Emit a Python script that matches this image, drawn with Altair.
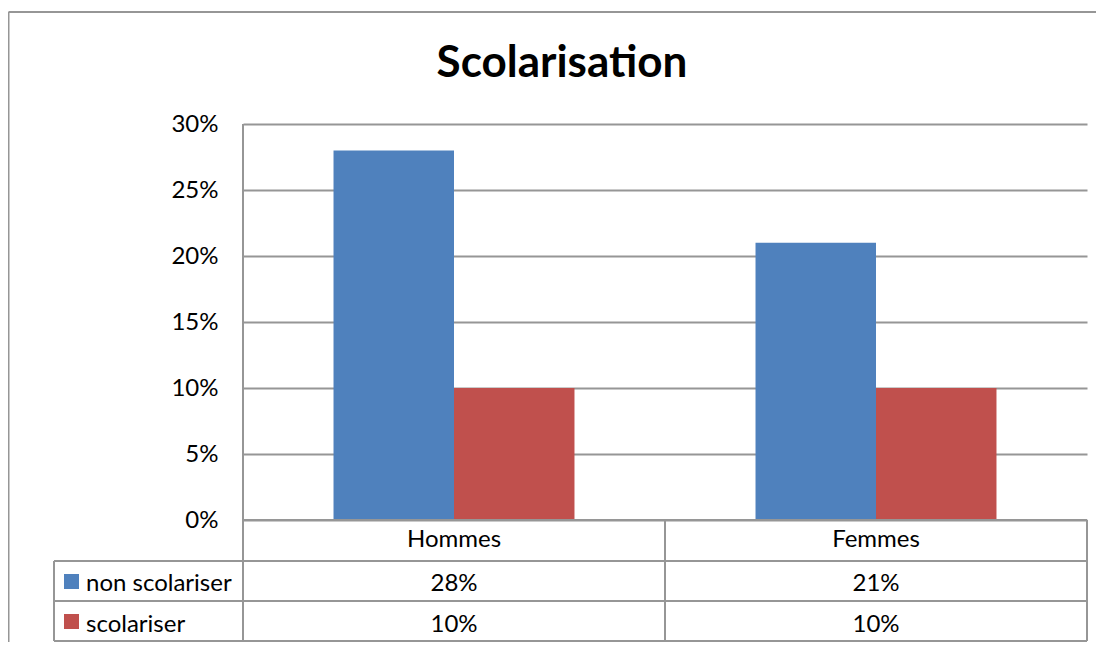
import altair as alt
import pandas as pd

# ---- data ----
categories = ["Hommes", "Femmes"]
series_names = ["non scolariser", "scolariser"]
non_scolariser = [0.28, 0.21]
scolariser = [0.10, 0.10]
y_ticks = [0, 0.05, 0.10, 0.15, 0.20, 0.25, 0.30]
title_text = "Scolarisation"

rows = []
for i, c in enumerate(categories):
    rows.append({"category": c, "series": series_names[0], "value": non_scolariser[i]})
    rows.append({"category": c, "series": series_names[1], "value": scolariser[i]})
df = pd.DataFrame(rows)

# ---- layout / style ----
W, H = 844, 396
FONT = "Lato"
FS = 24
GRID = "#969696"
LW = 2
row_lines = [396, 437, 477, 517]   # table horizontal lines (relative to plot area)
header_base = 423
row_base = [467, 508]              # baselines of table rows
sq_y = [457.5, 497.5]

x_scale = alt.Scale(domain=categories, paddingInner=0.429, paddingOuter=0.2145)
color_scale = alt.Scale(domain=series_names, range=["#4F81BD", "#C0504D"])
X = alt.X("category:N", scale=x_scale, axis=None, sort=categories)

dummy = pd.DataFrame({"d": [0]})

bars = alt.Chart(df).mark_bar().encode(
    x=X,
    xOffset=alt.XOffset("series:N", sort=series_names,
                        scale=alt.Scale(paddingInner=0, paddingOuter=0)),
    y=alt.Y("value:Q", scale=alt.Scale(domain=[0, 0.30], nice=False),
            axis=alt.Axis(values=y_ticks, format=".0%", title=None, grid=True,
                          gridColor=GRID, gridWidth=LW, domain=False, ticks=False,
                          labelFont=FONT, labelFontSize=FS, labelColor="black",
                          labelPadding=25)),
    color=alt.Color("series:N", scale=color_scale, legend=None),
)


def rule(x1, x2, y1, y2):
    return alt.Chart(dummy).mark_rule(color=GRID, strokeWidth=LW).encode(
        x=alt.value(x1), x2=alt.value(x2), y=alt.value(y1), y2=alt.value(y2))


lines = [
    rule(0, W, row_lines[0], row_lines[0]),
    rule(-189, W, row_lines[1], row_lines[1]),
    rule(-189, W, row_lines[2], row_lines[2]),
    rule(-189, W, row_lines[3], row_lines[3]),
    rule(-189, -189, row_lines[1], row_lines[3]),
    rule(0, 0, 0, row_lines[3]),
    rule(W / 2, W / 2, row_lines[0], row_lines[3]),
    rule(W, W, row_lines[0], row_lines[3]),
    # outer chart border (left and top)
    rule(-234.5, -234.5, -112, 530),
    rule(-234.5, W + 20, -112, -112),
]

header = alt.Chart(pd.DataFrame({"category": categories})).mark_text(
    baseline="alphabetic", font=FONT, fontSize=FS, color="black"
).encode(x=X, y=alt.value(header_base), text="category:N")

table_layers = []
for j, s in enumerate(series_names):
    table_layers.append(
        alt.Chart(df).transform_filter(alt.datum.series == s).mark_text(
            baseline="alphabetic", font=FONT, fontSize=FS, color="black"
        ).encode(x=X, y=alt.value(row_base[j]),
                 text=alt.Text("value:Q", format=".0%"))
    )
    sdf = pd.DataFrame({"series": [s]})
    table_layers.append(
        alt.Chart(sdf).mark_square(size=225, filled=True, opacity=1).encode(
            x=alt.value(-171.5), y=alt.value(sq_y[j]),
            color=alt.Color("series:N", scale=color_scale, legend=None))
    )
    table_layers.append(
        alt.Chart(sdf).mark_text(align="left", baseline="alphabetic", font=FONT,
                                 fontSize=FS, color="black").encode(
            x=alt.value(-157), y=alt.value(row_base[j]), text="series:N")
    )

title = alt.Chart(pd.DataFrame({"t": [title_text]})).mark_text(
    align="center", baseline="alphabetic", font=FONT, fontSize=44,
    fontWeight="bold", color="black"
).encode(x=alt.value(319), y=alt.value(-47), text="t:N")

chart = alt.layer(bars, *lines, header, *table_layers, title).properties(
    width=W, height=H,
    padding={"left": 235, "top": 116, "right": 9, "bottom": 122},
    autosize="none",
).configure_view(stroke=None)

chart.save("out.html", embed_options={"renderer": "svg", "actions": False})
